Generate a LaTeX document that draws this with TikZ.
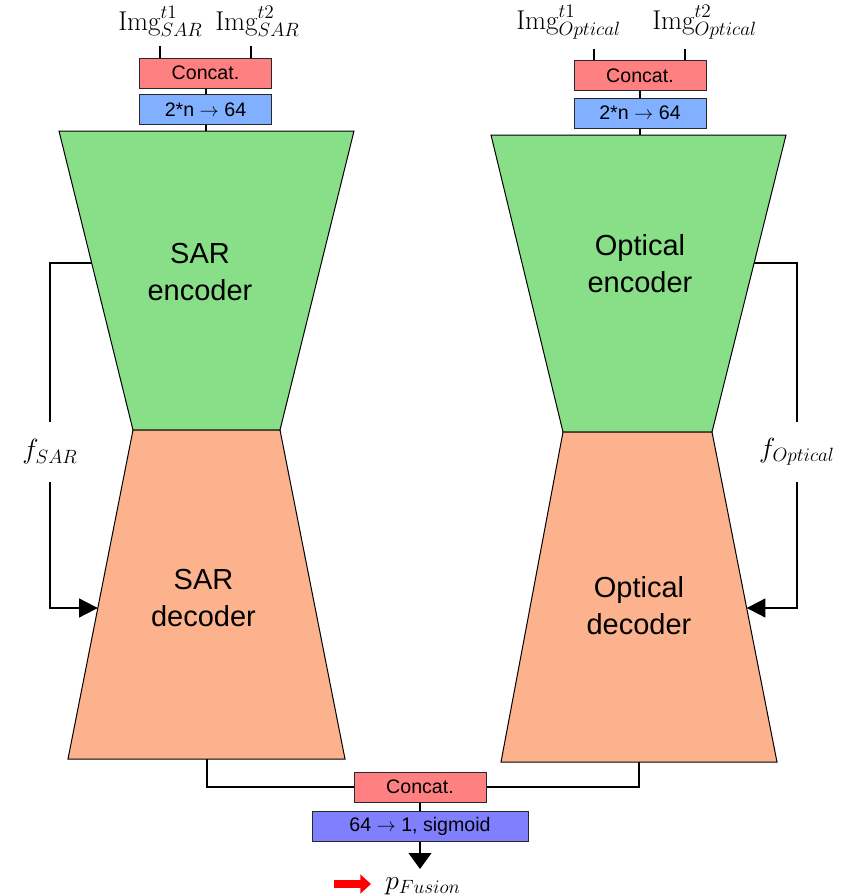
\documentclass[tikz,border=0pt]{standalone}
\usepackage{fontspec}
\setsansfont{Liberation Sans}
\usetikzlibrary{arrows.meta,calc}

\definecolor{concatred}{RGB}{255,128,128}
\definecolor{inblue}{RGB}{128,176,255}
\definecolor{outblue}{RGB}{128,128,255}
\definecolor{encgreen}{RGB}{136,223,136}
\definecolor{decorange}{RGB}{253,178,142}
\definecolor{boxedge}{RGB}{40,40,40}

% math labels are set at the largest fixed size and enlarged uniformly
\newcommand{\mlabel}[1]{\scalebox{1.2}{#1}}

\tikzset{
  layerbox/.style={draw=boxedge, line width=0.75pt, minimum height=22.5pt,
    inner sep=0pt, font=\sffamily\fontsize{14.7}{17}\selectfont},
  concatbox/.style={layerbox, fill=concatred, minimum width=99pt},
  inbox/.style={layerbox, fill=inblue, minimum width=99pt},
  link/.style={line width=1.5pt, draw=black},
  netpart/.style={draw=black, line width=0.75pt},
  netlabel/.style={font=\sffamily\fontsize{21.75}{27.75}\selectfont,
    align=center, inner sep=0pt},
  mathlabel/.style={font=\fontsize{17}{20}\selectfont, inner sep=0pt},
  imglabel/.style={mathlabel, anchor=base west},
  featlabel/.style={mathlabel, minimum height=45pt},
  sidearrow/.style={link, -{Triangle[length=14pt,width=14pt]}},
}

\begin{document}
\begin{tikzpicture}[x=0.75pt,y=-0.75pt]
\useasboundingbox (0,0) rectangle (845,896);

% ---- SAR branch: encoder / decoder trapezoids
\coordinate (sarTL) at (59,131);
\coordinate (sarTR) at (354,131);
\coordinate (sarML) at (133,430);
\coordinate (sarMR) at (280,430);
\coordinate (sarBL) at (68,759);
\coordinate (sarBR) at (345,759);
\draw[netpart, fill=encgreen] (sarTL) -- (sarTR) -- (sarMR) -- (sarML) -- cycle;
\draw[netpart, fill=decorange] (sarML) -- (sarMR) -- (sarBR) -- (sarBL) -- cycle;
\node[netlabel] (sarenc) at (200,272.5) {SAR\\encoder};
\node[netlabel] (sardec) at (203.5,598) {SAR\\decoder};

% ---- Optical branch: encoder / decoder trapezoids
\coordinate (optTL) at (491,135);
\coordinate (optTR) at (786,135);
\coordinate (optML) at (563,432);
\coordinate (optMR) at (712,432);
\coordinate (optBL) at (501,762);
\coordinate (optBR) at (777,762);
\draw[netpart, fill=encgreen] (optTL) -- (optTR) -- (optMR) -- (optML) -- cycle;
\draw[netpart, fill=decorange] (optML) -- (optMR) -- (optBR) -- (optBL) -- cycle;
\node[netlabel] (optenc) at (640,263.5) {Optical\\encoder};
\node[netlabel] (optdec) at (639,605.5) {Optical\\decoder};

% ---- SAR input stage
\node[imglabel] (sarimg1) at (118,30) {\mlabel{$\mathrm{Img}^{t1}_{SAR}$}};
\node[imglabel] (sarimg2) at (215,30) {\mlabel{$\mathrm{Img}^{t2}_{SAR}$}};
\node[concatbox] (sarcat) at (205.5,73) {Concat.};
\node[inbox] (sarin) at (205.5,109.5) {2*n $\rightarrow$ 64};
\coordinate (sarT1) at (160,46);
\coordinate (sarT2) at (251,46);
\draw[link] (sarT1) -- (sarT1 |- sarcat.north);
\draw[link] (sarT2) -- (sarT2 |- sarcat.north);
\draw[link] (sarcat) -- (sarin);
\draw[link] (sarin) -- (sarin.south |- sarTL);

% ---- Optical input stage
\node[imglabel] (optimg1) at (516,29) {\mlabel{$\mathrm{Img}^{t1}_{Optical}$}};
\node[imglabel] (optimg2) at (652,29) {\mlabel{$\mathrm{Img}^{t2}_{Optical}$}};
\node[concatbox] (optcat) at (640,75.5) {Concat.};
\node[inbox] (optin) at (640,113) {2*n $\rightarrow$ 64};
\coordinate (optT1) at (594,49);
\coordinate (optT2) at (685,49);
\draw[link] (optT1) -- (optT1 |- optcat.north);
\draw[link] (optT2) -- (optT2 |- optcat.north);
\draw[link] (optcat) -- (optin);
\draw[link] (optin) -- (optin.south |- optTL);

% ---- feature skip connections
\coordinate (sarFbOut) at ($(sarTL)!0.4415!(sarML)$);
\coordinate (sarFbIn) at ($(sarML)!0.541!(sarBL)$);
\node[featlabel] (fsar) at (50,452) {\mlabel{$f_{SAR}$}};
\draw[link] (sarFbOut) -| (fsar.north);
\draw[sidearrow] (fsar.south) |- (sarFbIn);

\coordinate (optFbOut) at ($(optTR)!0.431!(optMR)$);
\coordinate (optFbIn) at ($(optMR)!0.5333!(optBR)$);
\node[featlabel] (fopt) at (797,452) {\mlabel{$f_{Optical}$}};
\draw[link] (optFbOut) -| (fopt.north);
\draw[sidearrow] (fopt.south) |- (optFbIn);

% ---- fusion head
\node[concatbox] (fuscat) at (420,787) {Concat.};
\node[layerbox, fill=outblue, minimum width=162pt] (fusout) at (420,826) {64 $\rightarrow$ 1, sigmoid};
\coordinate (sarOut) at ($(sarBL)!0.5!(sarBR)$);
\coordinate (optOut) at ($(optBL)!0.5!(optBR)$);
\draw[link] (sarOut) |- (fuscat.west);
\draw[link] (optOut) |- (fuscat.east);
\draw[link] (fuscat) -- (fusout);
\coordinate (fusTip) at (420,869);
\draw[link, -{Triangle[length=12pt,width=17pt]}] (fusout) -- (fusTip);

\coordinate (redS) at (334,884);
\coordinate (redE) at (371,884);
\draw[red, line width=6pt, -{Triangle[length=8pt,width=14pt]}] (redS) -- (redE);
\node[imglabel] (pfus) at (385,889) {\mlabel{$p_{Fusion}$}};
\end{tikzpicture}
\end{document}
